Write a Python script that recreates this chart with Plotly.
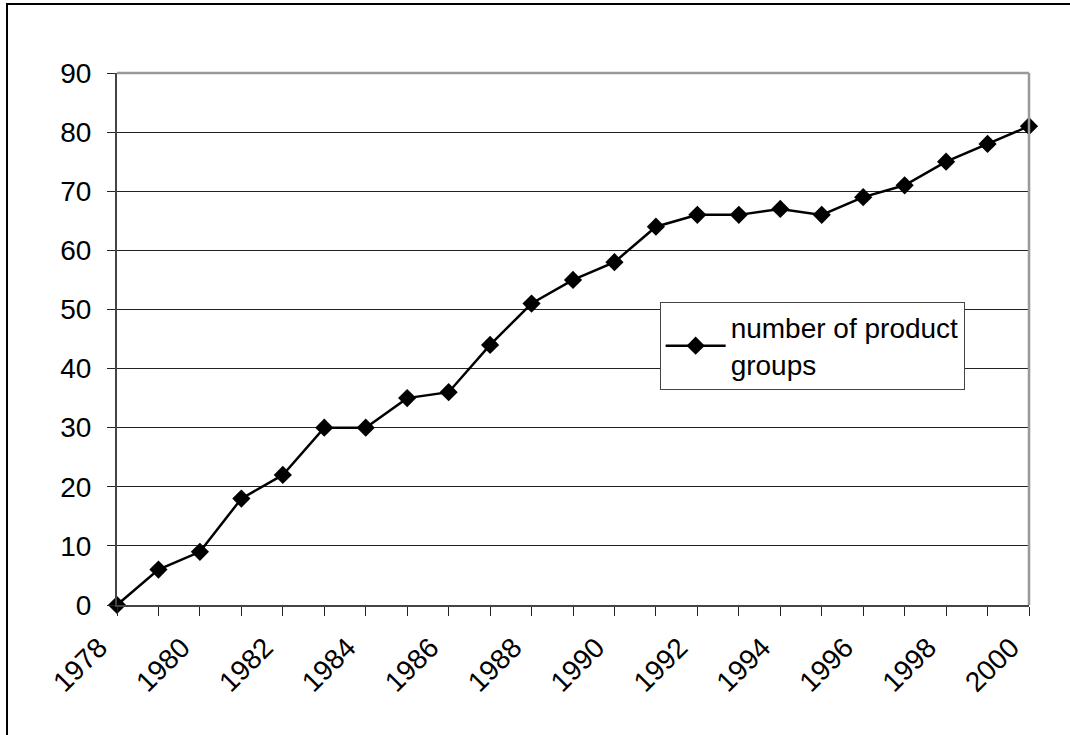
import plotly.graph_objects as go

years = list(range(1978, 2001))
product_groups = [0, 6, 9, 18, 22, 30, 30, 35, 36, 44, 51, 55, 58, 64, 66, 66, 67, 66, 69, 71, 75, 78, 81]
tick_labels = [str(y) if y % 2 == 0 else "" for y in years]
series_name = "number of product<br>groups"

FONT = "Liberation Sans, Arial, sans-serif"
FS = 28

fig = go.Figure()
fig.add_trace(go.Scatter(
    x=years, y=product_groups, mode="lines+markers", name=series_name,
    line=dict(color="black", width=2.5),
    marker=dict(symbol="diamond", size=14, color="black"),
    cliponaxis=False, showlegend=True,
))

fig.update_layout(
    width=1070, height=735,
    margin=dict(l=117, r=41, t=73, b=130),
    paper_bgcolor="white", plot_bgcolor="white",
    font=dict(family=FONT, size=FS, color="black"),
    showlegend=True,
    legend=dict(
        x=0.595, y=0.57, xanchor="left", yanchor="top",
        bgcolor="white", bordercolor="#444", borderwidth=1,
        font=dict(family=FONT, size=FS, color="black"),
        itemwidth=60, tracegroupgap=0,
    ),
    xaxis=dict(
        range=[1978, 2000], tickmode="array", tickvals=years, ticktext=tick_labels,
        tickangle=-45, ticks="outside", ticklen=9, tickcolor="#222", tickwidth=1,
        showline=True, linecolor="#444", linewidth=2, showgrid=False, zeroline=False,
        tickfont=dict(family=FONT, size=FS, color="black"),
        ticklabelshift=-18, ticklabelstandoff=4,
    ),
    yaxis=dict(
        range=[0, 90], tickmode="linear", tick0=0, dtick=10,
        ticks="outside", ticklen=8, tickcolor="#222", tickwidth=1,
        showline=True, linecolor="#444", linewidth=2,
        showgrid=True, gridcolor="#222", gridwidth=1, zeroline=False,
        tickfont=dict(family=FONT, size=FS, color="black"),
        ticklabelstandoff=10,
    ),
    shapes=[
        dict(type="line", xref="paper", yref="paper", x0=0, x1=1, y0=1, y1=1,
             line=dict(color="#999", width=2.5)),
        dict(type="line", xref="paper", yref="paper", x0=1, x1=1, y0=0, y1=1,
             line=dict(color="#999", width=2.5)),
        dict(type="rect", xref="paper", yref="paper", x0=-0.1206, x1=1.056, y0=-0.263, y1=1.1297,
             line=dict(color="black", width=2), fillcolor="rgba(0,0,0,0)"),
    ],
)

fig.write_html("out.html", config={"displayModeBar": False},
               post_script="document.body.style.margin='0';")
